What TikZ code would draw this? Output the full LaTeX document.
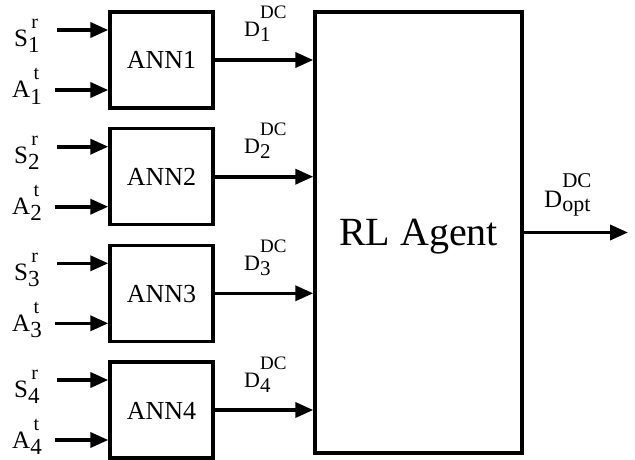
\documentclass[tikz,border=0pt]{standalone}
\usepackage{fontspec}
\setmainfont{Liberation Serif}
\usetikzlibrary{arrows.meta}
\newcommand{\inlbl}[3]{\fontsize{25}{25}\selectfont #1\makebox[0pt][l]{\raisebox{18pt}{\fontsize{20}{20}\selectfont\,#2}}\raisebox{-6pt}{\fontsize{23}{23}\selectfont #3}}
\newcommand{\dlbl}[3]{\fontsize{22}{22}\selectfont #1\makebox[0pt][l]{\raisebox{18pt}{\fontsize{19}{19}\selectfont #2}}\raisebox{-5pt}{\fontsize{21}{21}\selectfont #3}}
\newcommand{\olbl}[3]{\fontsize{25}{25}\selectfont #1\makebox[0pt][l]{\raisebox{20pt}{\fontsize{21}{21}\selectfont #2}}\raisebox{-4pt}{\fontsize{22}{22}\selectfont #3}}
\begin{document}
\begin{tikzpicture}[x=1pt,y=-1pt,
  annbox/.style={draw,line width=3.4pt,minimum width=103pt,minimum height=96pt,inner sep=0pt},
  conn/.style={line width=3.6pt,-{Triangle[length=18pt,width=15pt]}},
  lbl/.style={inner sep=0pt,anchor=base west}]
\useasboundingbox (0,0) rectangle (635,460);
\node[draw,line width=3.4pt,minimum width=207pt,minimum height=441pt,inner sep=0pt] (rl) at (418.5,232.5) {};
\node[inner sep=0pt,anchor=base] (rltxt) at (418.5,245) {\fontsize{40}{40}\selectfont RL Agent};
\foreach \i/\cy in {1/60,2/176.7,3/293.3,4/410}{
  \node[annbox] (ann\i) at (161.5,\cy) {};
  \node[inner sep=0pt,anchor=base] (anntxt\i) at (161.5,\cy+9) {\fontsize{26}{26}\selectfont ANN\i};
  \coordinate (s\i) at (57,\cy-30);
  \coordinate (a\i) at (55,\cy+30);
  \draw[conn] (s\i) -- (s\i -| ann\i.west);
  \draw[conn] (a\i) -- (a\i -| ann\i.west);
  \draw[conn] (ann\i.east) -- (ann\i.east -| rl.west);
  \node[lbl] (sl\i) at (14,\cy-13) {\inlbl{S}{r}{\i}};
  \node[lbl] (al\i) at (12,\cy+38) {\inlbl{A}{t}{\i}};
  \node[lbl] (dl\i) at (244,\cy-23) {\dlbl{D}{DC}{\i}};
}
\coordinate (out) at (628,232.5);
\draw[conn] (rl.east) -- (out);
\node[lbl] (dopt) at (544,207) {\olbl{D}{DC}{opt}};
\end{tikzpicture}
\end{document}
